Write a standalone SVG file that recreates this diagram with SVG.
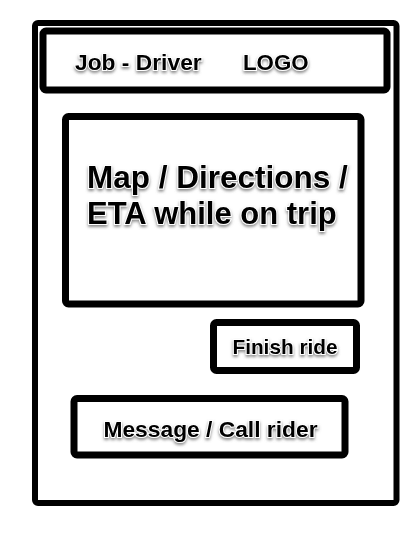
<svg xmlns="http://www.w3.org/2000/svg" width="416" height="535" viewBox="0 0 416 535">
<defs>
<filter id="sh" x="-10%" y="-30%" width="120%" height="170%">
<feDropShadow dx="0" dy="2" stdDeviation="1.4" flood-color="#777" flood-opacity="0.85"/>
</filter>
<style>
.box{fill:#fff;stroke:#000;stroke-width:7;stroke-linejoin:round}
.lbl{font-family:"Liberation Sans",Arial,sans-serif;font-weight:bold;fill:#000;stroke:#fff;stroke-width:2;paint-order:stroke;filter:url(#sh)}
</style>
</defs>
<rect width="416" height="535" fill="#fff"/>
<g id="phone"><rect class="box" x="35" y="23" width="361.5" height="480" rx="3" style="stroke-width:6"/></g>
<g id="header">
<rect class="box" x="43" y="31" width="344" height="59" rx="3"/>
<text class="lbl" x="75" y="70" font-size="22.8">Job - Driver</text>
<text class="lbl" x="243" y="70" font-size="22.3">LOGO</text>
</g>
<g id="map">
<rect class="box" x="65.5" y="116.5" width="295.5" height="187.5" rx="3"/>
<text class="lbl" x="87" y="188" font-size="31.5">Map / Directions /</text>
<text class="lbl" x="87" y="224" font-size="31">ETA while on trip</text>
</g>
<g id="finish">
<rect class="box" x="213.5" y="322.5" width="143" height="48" rx="3"/>
<text class="lbl" x="285" y="354" font-size="20.8" text-anchor="middle">Finish ride</text>
</g>
<g id="message">
<rect class="box" x="74" y="398.5" width="271" height="56.5" rx="3"/>
<text class="lbl" x="210.5" y="437" font-size="22.8" text-anchor="middle">Message / Call rider</text>
</g>
<g id="connectors"></g>
</svg>
